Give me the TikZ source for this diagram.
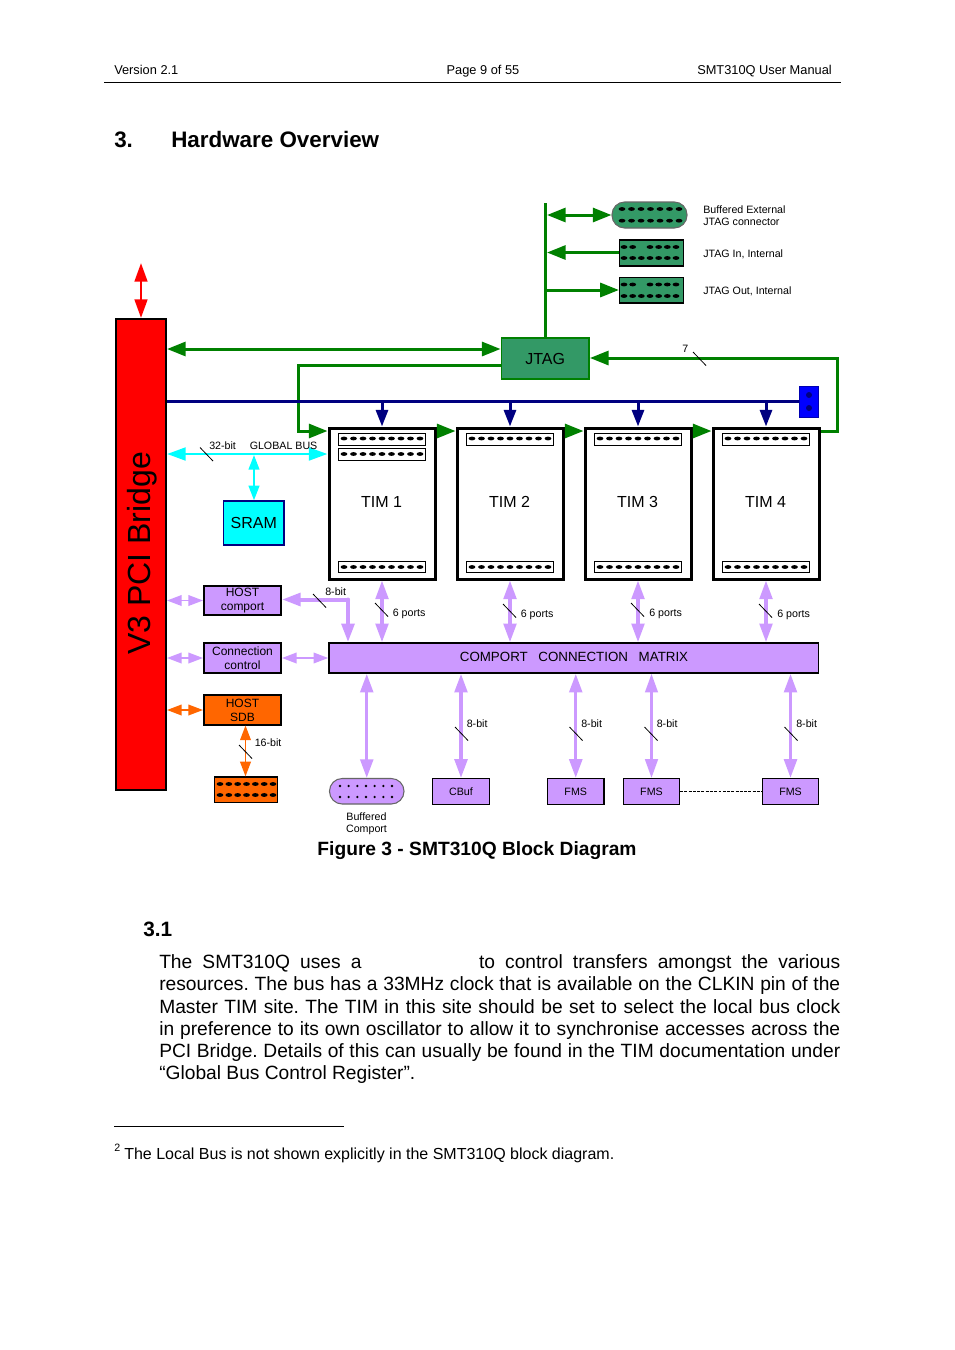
\documentclass[tikz,border=0pt]{standalone}
\usepackage{fontspec}
\setmainfont{Liberation Sans}
\usetikzlibrary{arrows.meta,calc}
\definecolor{jgreen}{HTML}{339966}
\definecolor{lgreen}{HTML}{008000}
\definecolor{lilac}{HTML}{CC99FF}
\definecolor{orng}{HTML}{FF6600}
\definecolor{nvy}{HTML}{000080}
\definecolor{cyn}{HTML}{00FFFF}
\definecolor{rd}{HTML}{FF0000}
\definecolor{blu}{HTML}{0000FF}
\newcommand\fs[1]{\fontsize{#1}{#1}\selectfont}
% name, x1, y1, x2, y2, style, text
\newcommand\bx[7]{\node[#6,minimum width={(#4-#2)*0.75pt},minimum height={(#5-#3)*0.75pt}] (#1) at ({(#2+#4)/2},{(#3+#5)/2}) {#7};}
% x1, x2, last index, y
\newcommand\pinrow[4]{\foreach \i in {0,...,#3}{\pgfmathsetmacro\xx{#1+\i*(#2-#1)/#3}\fill[black] (\xx,#4) ellipse [x radius=3.4,y radius=1.9];}}
\newcommand\dotrow[4]{\foreach \i in {0,...,#3}{\pgfmathsetmacro\xx{#1+\i*(#2-#1)/#3}\fill[black] (\xx,#4) circle [radius=1.3];}}
\newcommand\tick[2]{\draw[tickline] (#1,#2) -- ++(13,13.5);}
\tikzset{
  x=0.75pt,y=-0.75pt,
  box/.style={draw=black,inner sep=0pt,line width=1.5pt,align=center,font=\fs{9}},
  tim/.style={draw=black,fill=white,inner sep=0pt,line width=2.25pt,font=\fs{12}},
  slot/.style={draw=black,fill=white,inner sep=0pt,line width=.75pt},
  lil/.style={box,fill=lilac},
  lilthin/.style={box,fill=lilac,line width=.9pt,font=\fs{8}},
  org/.style={box,fill=orng},
  conn/.style={draw=black,fill=jgreen,inner sep=0pt,line width=.9pt},
  lbl/.style={inner sep=0pt,font=\fs{8},anchor=west},
  tickline/.style={draw=black,line width=.6pt},
  tipg/.tip={Triangle[length=14pt,width=10.5pt]},
  tipb/.tip={Triangle[length=14pt,width=9.5pt]},
  tips/.tip={Triangle[length=11pt,width=8pt]},
  gl/.style={draw=lgreen,line width=2.25pt},
  bl/.style={draw=nvy,line width=2.25pt},
  pl/.style={draw=lilac,line width=2.5pt,tipb-tipb,color=lilac},
  plthin/.style={draw=lilac,line width=1.2pt,tips-tips,color=lilac},
  ol/.style={draw=orng,line width=1.2pt,color=orng},
}
\begin{document}
\begin{tikzpicture}
\useasboundingbox[fill=white] (0,0) rectangle (954,1350);
% page furniture
\node[inner sep=0pt,font=\fs{9.6},anchor=base west] (ver) at (114,74) {Version 2.1};
\node[inner sep=0pt,font=\fs{9.6},anchor=base] (pg) at (483,74) {Page 9 of 55};
\node[inner sep=0pt,font=\fs{9.6},anchor=base east] (man) at (832,74) {SMT310Q User Manual};
\coordinate (hl) at (104,82.5); \coordinate (hr) at (841,82.5);
\draw[line width=.6pt] (hl) -- (hr);
\node[lbl,font=\bfseries\fs{16.8}] (secn) at (114,139.5) {3.};
\node[lbl,font=\bfseries\fs{16.8}] (sect) at (171,139.5) {Hardware Overview};
% blocks
\bx{pci}{116}{319}{166}{790}{draw=black,fill=rd,inner sep=0pt,line width=1.5pt}{}
\node[rotate=90,inner sep=0pt,font=\fs{24}] (pcit) at (142,553.5) {V3 PCI Bridge};
\bx{jtag}{501.5}{338}{589}{379}{draw=lgreen,fill=jgreen,inner sep=0pt,line width=1.4pt,font=\fs{12}}{JTAG}
\bx{ext}{612}{202}{687}{228}{draw=black!60,fill=jgreen,inner sep=0pt,line width=.8pt,rounded corners=9.5pt}{}
\bx{jin}{619.5}{240}{683.5}{266}{conn}{}
\bx{jout}{619.5}{277.5}{683.5}{303}{conn}{}
\pinrow{622}{679}{6}{209}\pinrow{622}{679}{6}{220.7}
\foreach \x in {624,632.7,650,658.7,667.3,676}{\fill (\x,247) ellipse [x radius=3.4,y radius=1.9]; \fill (\x,284.5) ellipse [x radius=3.4,y radius=1.9];}
\pinrow{624}{676}{6}{258}\pinrow{624}{676}{6}{296}
\node[lbl,align=left,font=\fs{8}] (t1) at (703,216) {Buffered External\\[1pt]JTAG connector};
\node[lbl] (t2) at (703,254.5) {JTAG In, Internal};
\node[lbl] (t3) at (703,291.5) {JTAG Out, Internal};
\bx{tima}{329}{428}{435}{579}{tim}{}
\bx{timb}{457}{428}{563}{579}{tim}{}
\bx{timc}{585}{428}{691}{579}{tim}{}
\bx{timd}{713}{428}{819}{579}{tim}{}
\node[font=\fs{12},inner sep=0pt] (ta) at (381.5,501.5) {TIM 1};
\node[font=\fs{12},inner sep=0pt] (tb) at (509.5,501.5) {TIM 2};
\node[font=\fs{12},inner sep=0pt] (tc) at (637.5,501.5) {TIM 3};
\node[font=\fs{12},inner sep=0pt] (td) at (765.5,501.5) {TIM 4};
\bx{sa1}{338.5}{433.5}{425}{445}{slot}{}
\bx{sa2}{338.5}{448.5}{425}{460}{slot}{}
\bx{sa3}{338.5}{561}{425}{572.5}{slot}{}
\pinrow{344}{420}{8}{438.5}\pinrow{344}{420}{8}{454}\pinrow{344}{420}{8}{567}
\bx{sb1}{466.5}{433.5}{553}{445}{slot}{}
\bx{sb3}{466.5}{561}{553}{572.5}{slot}{}
\pinrow{472}{548}{8}{438.5}\pinrow{472}{548}{8}{567}
\bx{sc1}{594.5}{433.5}{681}{445}{slot}{}
\bx{sc3}{594.5}{561}{681}{572.5}{slot}{}
\pinrow{600}{676}{8}{438.5}\pinrow{600}{676}{8}{567}
\bx{sd1}{722.5}{433.5}{809}{445}{slot}{}
\bx{sd3}{722.5}{561}{809}{572.5}{slot}{}
\pinrow{728}{804}{8}{438.5}\pinrow{728}{804}{8}{567}
\bx{jump}{799.5}{386.5}{818.5}{417}{draw=blu!70!black,fill=blu,inner sep=0pt,line width=.5pt}{}
\fill[nvy] (809,395) circle [radius=3]; \fill[nvy] (809,408) circle [radius=3];
\bx{sram}{223.5}{501}{284}{545}{draw=nvy,fill=cyn,inner sep=0pt,line width=1pt,font=\fs{12}}{SRAM}
\bx{hc}{204}{586}{281}{615}{lil}{\fs{9}HOST\\[1.3pt]comport}
\bx{cc}{204}{643}{281}{673}{lil}{\fs{9}Connection\\[1.3pt]control}
\bx{hs}{204}{695}{281}{725}{org}{\fs{9}HOST\\[1.3pt]SDB}
\bx{oc}{214.5}{777}{277.5}{802.5}{draw=black,fill=orng,inner sep=0pt,line width=.9pt}{}
\pinrow{220}{273}{6}{784}\pinrow{220}{273}{6}{795}
\bx{mx}{329}{643}{818.5}{673}{lil,line width=1.2pt}{}
\node[inner sep=0pt,font=\fs{10}] (mxt) at (574,656.5) {COMPORT\hspace{8pt}CONNECTION\hspace{8pt}MATRIX};
\bx{bc}{329.5}{778.5}{404}{804}{draw=black!60,fill=lilac,inner sep=0pt,line width=.8pt,rounded corners=9.5pt}{}
\dotrow{340}{392}{6}{786}\dotrow{340}{392}{6}{797}
\node[inner sep=0pt,align=center,font=\fs{8}] (bct) at (366.5,824) {Buffered\\[1pt]Comport};
\bx{cb}{432.5}{778.5}{489.5}{804.5}{lilthin}{CBuf}
\bx{f1}{547.5}{778.5}{604}{804.5}{lilthin}{FMS}
\bx{f2}{623.5}{778.5}{679.5}{804.5}{lilthin}{FMS}
\bx{f3}{762.5}{778.5}{818.5}{804.5}{lilthin}{FMS}
% red
\coordinate (net) at (141,263);
\draw[rd,line width=2pt,tipb-tipb] (net) -- (net |- pci.north);
% jtag bus
\coordinate (bustop) at (545.5,203);
\draw[gl] (bustop) -- (jtag.north -| bustop);
\coordinate (be) at (547,215); \coordinate (bi) at (547,252.5); \coordinate (bo) at (546,290);
\draw[gl,tipg-tipg] (be) -- (be -| ext.west);
\draw[gl,-tipg] (bi -| jin.west) -- (bi);
\draw[gl,-tipg] (bo) -- (bo -| jout.west);
\coordinate (pj) at (0,349);
\draw[gl,tipg-tipg] (pj -| pci.east) -- (pj -| jtag.west);
\coordinate (g1) at (298,365); \coordinate (g2) at (298,431);
\draw[gl,-tipg] (g1 -| jtag.west) -- (g1) -- (g2) -- (g2 -| tima.west);
\draw[gl,-tipg] (g2 -| tima.east) -- (g2 -| timb.west);
\draw[gl,-tipg] (g2 -| timb.east) -- (g2 -| timc.west);
\draw[gl,-tipg] (g2 -| timc.east) -- (g2 -| timd.west);
\coordinate (g3) at (837.5,431); \coordinate (g4) at (837.5,358);
\draw[gl,-tipg] (g3 -| timd.east) -- (g3) -- (g4) -- (g4 -| jtag.east);
\tick{693}{352}
\node[lbl] (seven) at (682,349) {7};
% navy bus
\coordinate (nb) at (0,401);
\draw[bl] (nb -| pci.east) -- (nb -| jump.west);
\foreach \t in {tima,timb,timc,timd}{\draw[bl,-{Triangle[length=12.5pt,width=9pt]}] (nb -| \t.north) -- (\t.north);}
% cyan bus
\coordinate (cy) at (0,454);
\draw[cyn,line width=2.2pt,tipb-tipb] (cy -| pci.east) -- (cy -| tima.west);
\coordinate (cv) at (254,455);
\draw[cyn,line width=1.6pt,tips-tips] (cv) -- (cv |- sram.north);
\tick{200}{447.5}
\node[lbl] (b32) at (209,445.5) {32-bit};
\node[lbl] (bgb) at (249.5,445.5) {GLOBAL BUS};
% left side
\draw[plthin] (hc.west -| pci.east) -- (hc.west);
\draw[plthin] (cc.west -| pci.east) -- (cc.west);
\draw[ol,tips-tips] (hs.west -| pci.east) -- (hs.west);
\coordinate (hb) at (245.5,725.5);
\draw[ol,tips-tips] (hb) -- (hb |- oc.north);
\tick{239}{745}
\node[lbl] (b16) at (254.5,742.5) {16-bit};
\coordinate (hm) at (348,599.5);
\draw[draw=lilac,line width=3pt,color=lilac,line cap=round,-tipb] (hm) -- (hm |- mx.north);
\draw[draw=lilac,line width=3pt,color=lilac,line cap=round,-tipb] (hm) -- (hm -| hc.east);
\tick{313}{594}
\node[lbl] (b8) at (325,591.5) {8-bit};
\draw[plthin] (cc.east) -- (mx.west);
% matrix to TIMs
\foreach \t in {tima,timb,timc,timd}{
  \draw[pl] (\t.south) -- (\t.south |- mx.north);
}
\tick{375}{603}\tick{503}{604}\tick{631}{603}\tick{759}{604}
\node[lbl] (p1) at (392.5,613.5) {6 ports};
\node[lbl] (p2) at (520.5,614.5) {6 ports};
\node[lbl] (p3) at (649,613.5) {6 ports};
\node[lbl] (p4) at (777,614.5) {6 ports};
% bottom
\draw[pl] (bc.north) -- (bc.north |- mx.south);
\draw[pl] (cb.north) -- (cb.north |- mx.south);
\draw[pl] (f1.north) -- (f1.north |- mx.south);
\draw[pl,line width=1.8pt] (f2.north) -- (f2.north |- mx.south);
\draw[pl] (f3.north) -- (f3.north |- mx.south);
\tick{455}{727}\tick{569.5}{727}\tick{644.5}{727}\tick{784.5}{727}
\node[lbl] (e1) at (466.5,723.5) {8-bit};
\node[lbl] (e2) at (581,723.5) {8-bit};
\node[lbl] (e3) at (656.5,723.5) {8-bit};
\node[lbl] (e4) at (796,723.5) {8-bit};
\draw[line width=1pt,dash pattern=on 2.2pt off 1pt] (f2.east) -- (f3.west);
% text
\node[lbl,font=\bfseries\fs{14.4},anchor=center] (cap) at (477,850.5) {Figure 3 - SMT310Q Block Diagram};
\node[lbl,font=\bfseries\fs{15.6}] (s31) at (143,929.5) {3.1};
\node[inner sep=0pt,anchor=north west,text width=510.75pt,align=justify,font=\fontsize{14.4}{16.65}\selectfont] (body) at (159,954.5) {\frenchspacing%
The SMT310Q uses a \hspace{73pt} to control transfers amongst the various\linebreak
resources. The bus has a 33MHz clock that is available on the CLKIN pin of the\linebreak
Master TIM site. The TIM in this site should be set to select the local bus clock\linebreak
in preference to its own oscillator to allow it to synchronise accesses across the\linebreak
PCI Bridge. Details of this can usually be found in the TIM documentation under\linebreak
“Global Bus Control Register”.};
\coordinate (fl) at (114,1126.5); \coordinate (fr) at (344,1126.5);
\draw[line width=.6pt] (fl) -- (fr);
\node[lbl,font=\fs{8}] (fnm) at (114,1147.5) {2};
\node[lbl,font=\fs{12}] (fnt) at (124,1155) {The Local Bus is not shown explicitly in the SMT310Q block diagram.};
\end{tikzpicture}
\end{document}
